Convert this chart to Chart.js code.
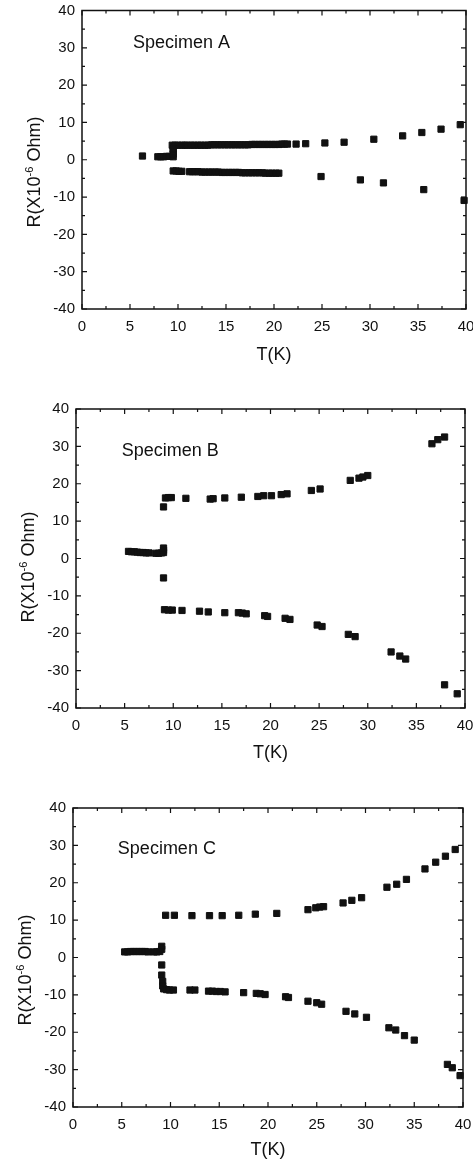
<!DOCTYPE html>
<html>
<head>
<meta charset="utf-8">
<title>R vs T, specimens A-C</title>
<script src="https://cdn.jsdelivr.net/npm/chart.js@4.4.0/dist/chart.umd.min.js"></script>
<style>
  html, body { margin: 0; padding: 0; background: #fff; }
  body { width: 473px; height: 1162px; position: relative; overflow: hidden; }
  canvas { position: absolute; left: 0; }
</style>
</head>
<body>
<canvas id="chartA" width="473" height="370" style="top:0px"></canvas>
<canvas id="chartB" width="473" height="390" style="top:380px"></canvas>
<canvas id="chartC" width="473" height="382" style="top:780px"></canvas>
<script>
// Specimen A
const aLowT = [6.3, 7.9, 8.2, 8.5, 8.8, 9.1, 9.5, 9.5, 9.5, 9.5];
const aLowR = [1.0, 0.8, 0.8, 0.8, 0.9, 0.9, 0.8, 1.5, 2.2, 2.9];
const aUpT = [9.4, 9.7, 10.0, 10.4, 10.7, 11.0, 11.4, 11.7, 12.1, 12.4, 12.8, 13.1, 13.5, 13.8, 14.2, 14.5, 14.9, 15.2, 15.6, 15.9, 16.3, 16.6, 17.0, 17.3, 17.7, 18.0, 18.4, 18.7, 19.1, 19.4, 19.8, 20.1, 20.5, 20.8, 21.1, 21.4,
  22.3, 23.3, 25.3, 27.3, 30.4, 33.4, 35.4, 37.4, 39.4];
const aUpR = [3.9, 3.9, 3.9, 3.9, 3.9, 3.9, 3.9, 3.9, 3.9, 3.9, 3.9, 3.9, 4.0, 4.0, 4.0, 4.0, 4.0, 4.0, 4.0, 4.0, 4.0, 4.0, 4.0, 4.0, 4.1, 4.1, 4.1, 4.1, 4.1, 4.1, 4.1, 4.1, 4.1, 4.2, 4.2, 4.2,
  4.2, 4.3, 4.5, 4.7, 5.5, 6.4, 7.3, 8.2, 9.4];
const aDownT = [9.5, 9.8, 10.1, 10.4, 11.2, 11.5, 11.8, 12.1, 12.5, 12.8, 13.2, 13.5, 13.9, 14.2, 14.6, 14.9, 15.3, 15.6, 16.0, 16.3, 16.7, 17.0, 17.4, 17.7, 18.1, 18.4, 18.8, 19.1, 19.5, 19.8, 20.2, 20.5,
  24.9, 29.0, 31.4, 35.6, 39.8];
const aDownR = [-3.0, -3.0, -3.1, -3.1, -3.2, -3.2, -3.2, -3.2, -3.3, -3.3, -3.3, -3.3, -3.3, -3.3, -3.4, -3.4, -3.4, -3.4, -3.4, -3.4, -3.5, -3.5, -3.5, -3.5, -3.5, -3.5, -3.5, -3.6, -3.6, -3.6, -3.6, -3.6,
  -4.5, -5.4, -6.2, -8.0, -10.9];

// Specimen B
const bLowT = [5.4, 5.7, 6.0, 6.3, 6.6, 6.9, 7.2, 7.5, 8.2, 8.5, 8.8, 9.0, 9.0, 9.0];
const bLowR = [1.9, 1.8, 1.8, 1.7, 1.6, 1.6, 1.5, 1.5, 1.4, 1.4, 1.5, 1.6, 2.2, 2.8];
const bUpT = [9.0, 9.2, 9.5, 9.8, 11.3, 13.8, 14.1, 15.3, 17.0, 18.7, 19.3, 20.1, 21.1, 21.7, 24.2, 25.1, 28.2, 29.1, 29.5, 30.0, 36.6, 37.2, 37.9];
const bUpR = [13.8, 16.2, 16.3, 16.3, 16.1, 15.9, 16.0, 16.2, 16.4, 16.6, 16.8, 16.8, 17.1, 17.3, 18.2, 18.6, 20.9, 21.5, 21.8, 22.2, 30.7, 31.8, 32.5];
const bDownT = [9.0, 9.1, 9.5, 9.9, 10.9, 12.7, 13.6, 15.3, 16.7, 17.1, 17.5, 19.4, 19.7, 21.5, 22.0, 24.8, 25.3, 28.0, 28.7, 32.4, 33.3, 33.9, 37.9, 39.2];
const bDownR = [-5.2, -13.7, -13.8, -13.8, -13.9, -14.1, -14.3, -14.5, -14.5, -14.6, -14.8, -15.3, -15.5, -16.0, -16.3, -17.8, -18.2, -20.3, -20.9, -25.0, -26.1, -26.9, -33.8, -36.2];

// Specimen C
const cLowT = [5.3, 5.6, 5.9, 6.2, 6.5, 6.8, 7.1, 7.4, 7.7, 8.3, 8.6, 8.9, 9.1, 9.1];
const cLowR = [1.5, 1.5, 1.6, 1.6, 1.6, 1.6, 1.6, 1.6, 1.5, 1.5, 1.5, 1.6, 2.2, 3.0];
const cUpT = [9.5, 10.4, 12.2, 14.0, 15.3, 17.0, 18.7, 20.9, 24.1, 24.9, 25.3, 25.7, 27.7, 28.6, 29.6, 32.2, 33.2, 34.2, 36.1, 37.2, 38.2, 39.2];
const cUpR = [11.3, 11.3, 11.2, 11.2, 11.2, 11.3, 11.6, 11.8, 12.8, 13.3, 13.5, 13.6, 14.6, 15.3, 16.0, 18.8, 19.6, 20.9, 23.7, 25.5, 27.1, 28.9];
const cDownT = [9.1, 9.1, 9.2, 9.2, 9.3, 9.6, 9.9, 10.3, 12.0, 12.5, 13.9, 14.3, 14.7, 15.1, 15.6, 17.5, 18.8, 19.2, 19.7, 21.8, 22.1, 24.1, 25.0, 25.5, 28.0, 28.9, 30.1, 32.4, 33.1, 34.0, 35.0, 38.4, 38.9, 39.7];
const cDownR = [-2.0, -4.7, -6.4, -7.6, -8.4, -8.6, -8.7, -8.7, -8.7, -8.7, -9.0, -9.0, -9.1, -9.1, -9.2, -9.4, -9.6, -9.7, -9.9, -10.5, -10.7, -11.7, -12.1, -12.5, -14.4, -15.1, -16.0, -18.8, -19.4, -20.9, -22.1, -28.6, -29.5, -31.6];

const xTitle = "T(K)";
const yTitleParts = ["R(X10", "-6", " Ohm)"];
const FONT = '"Liberation Sans", Arial, sans-serif';

function toPoints(ts, rs) {
  return ts.map((t, i) => ({ x: t, y: rs[i] }));
}

// frame with inward ticks, specimen label and y title (superscript)
const framePlugin = {
  id: "frame",
  afterDraw(chart, args, opts) {
    const { ctx, chartArea: a } = chart;
    const x = chart.scales.x;
    const y = chart.scales.y;
    ctx.save();
    ctx.strokeStyle = "#111";
    ctx.lineWidth = 1.5;
    ctx.strokeRect(a.left, a.top, a.right - a.left, a.bottom - a.top);

    ctx.lineWidth = 1.2;
    ctx.beginPath();
    for (let v = 0; v <= 40; v += 2.5) {
      const px = x.getPixelForValue(v);
      const len = v % 5 === 0 ? 5 : 3;
      ctx.moveTo(px, a.bottom);
      ctx.lineTo(px, a.bottom - len);
      ctx.moveTo(px, a.top);
      ctx.lineTo(px, a.top + len);
    }
    for (let v = -40; v <= 40; v += 5) {
      const py = y.getPixelForValue(v);
      const len = v % 10 === 0 ? 5 : 3;
      ctx.moveTo(a.left, py);
      ctx.lineTo(a.left + len, py);
      ctx.moveTo(a.right, py);
      ctx.lineTo(a.right - len, py);
    }
    ctx.stroke();

    ctx.fillStyle = "#111";
    ctx.font = "18px " + FONT;
    ctx.textAlign = "left";
    ctx.textBaseline = "middle";
    ctx.fillText(opts.label, x.getPixelForValue(opts.labelAt[0]), y.getPixelForValue(opts.labelAt[1]));

    // rotated y title
    const big = "18px " + FONT;
    const small = "11px " + FONT;
    const fonts = [big, small, big];
    const widths = yTitleParts.map((s, i) => {
      ctx.font = fonts[i];
      return ctx.measureText(s).width;
    });
    const total = widths.reduce((s, w) => s + w, 0);
    ctx.translate(opts.titleX, opts.titleY);
    ctx.rotate(-Math.PI / 2);
    ctx.textBaseline = "alphabetic";
    let cx = -total / 2;
    yTitleParts.forEach((s, i) => {
      ctx.font = fonts[i];
      ctx.fillText(s, cx, i === 1 ? -1 : 6);
      cx += widths[i];
    });
    ctx.restore();
  },
};

function makeChart(id, branches, o) {
  const ctx = document.getElementById(id).getContext("2d");
  const datasets = branches.map(([ts, rs]) => ({
    data: toPoints(ts, rs),
    pointStyle: "rect",
    pointRadius: 4.4,
    pointBorderWidth: 1,
    backgroundColor: "#111",
    borderColor: "#111",
    showLine: false,
    clip: false,
  }));

  return new Chart(ctx, {
    type: "scatter",
    data: { datasets: datasets },
    plugins: [framePlugin],
    options: {
      responsive: false,
      animation: false,
      devicePixelRatio: 1,
      layout: { padding: { top: o.padTop, right: o.padRight, left: 0, bottom: 0 } },
      plugins: {
        legend: { display: false },
        tooltip: { enabled: false },
        frame: { label: o.label, labelAt: o.labelAt, titleX: o.titleX, titleY: o.titleY },
      },
      scales: {
        x: {
          type: "linear",
          min: 0,
          max: 40,
          grid: { display: false, drawTicks: false },
          border: { display: false },
          ticks: {
            stepSize: 5,
            autoSkip: false,
            maxRotation: 0,
            padding: 9,
            color: "#111",
            font: { family: FONT, size: 15 },
          },
          title: {
            display: true,
            text: xTitle,
            color: "#111",
            font: { family: FONT, size: 18 },
            padding: { top: 0, bottom: o.titlePad },
          },
          afterFit(scale) {
            scale.height = o.xHeight;
            scale.paddingLeft = 0;
            scale.paddingRight = 0;
          },
        },
        y: {
          type: "linear",
          min: -40,
          max: 40,
          grid: { display: false, drawTicks: false },
          border: { display: false },
          ticks: {
            stepSize: 10,
            padding: 7,
            color: "#111",
            font: { family: FONT, size: 15 },
          },
          afterFit(scale) {
            scale.width = o.yWidth;
            scale.paddingTop = 0;
            scale.paddingBottom = 0;
          },
        },
      },
    },
  });
}

makeChart("chartA", [[aLowT, aLowR], [aUpT, aUpR], [aDownT, aDownR]], {
  padTop: 10.5, padRight: 7, xHeight: 61, yWidth: 82, titlePad: 4,
  label: "Specimen A", labelAt: [5.3, 31.3], titleX: 34, titleY: 172,
});

makeChart("chartB", [[bLowT, bLowR], [bUpT, bUpR], [bDownT, bDownR]], {
  padTop: 29, padRight: 8, xHeight: 62, yWidth: 76, titlePad: 6,
  label: "Specimen B", labelAt: [4.7, 28.8], titleX: 28, titleY: 187,
});

makeChart("chartC", [[cLowT, cLowR], [cUpT, cUpR], [cDownT, cDownR]], {
  padTop: 28, padRight: 10, xHeight: 55, yWidth: 73, titlePad: 1,
  label: "Specimen C", labelAt: [4.6, 29.1], titleX: 25, titleY: 190,
});
</script>
</body>
</html>
